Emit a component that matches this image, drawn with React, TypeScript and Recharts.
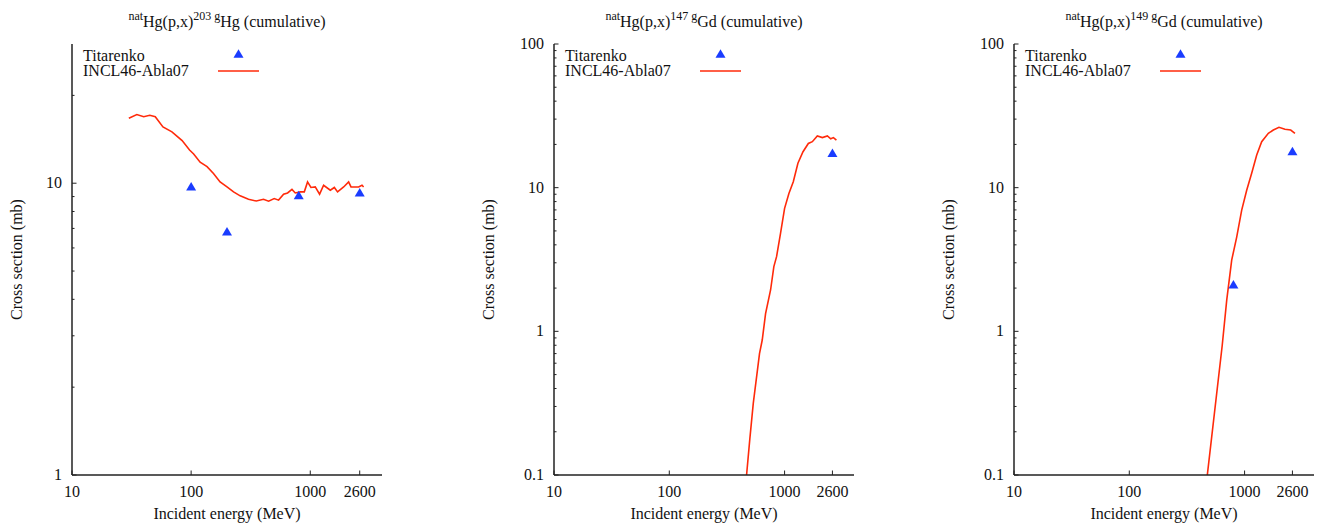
import { ComposedChart, Line, Scatter, XAxis, YAxis, Legend } from 'recharts';

const BLUE = '#1a3cff';
const RED = '#ff2a0a';
const AXIS = '#222';
const FONT = "'Liberation Serif', 'Times New Roman', serif";

const xTicks = [10, 100, 1000, 2600];

// natHg(p,x)203gHg
const hg203InclE = [30, 35, 40, 45, 50, 58, 69, 84, 97, 105, 119, 136, 154, 175, 200, 227, 258, 303, 352, 405, 447, 498, 542, 597, 645, 702, 748, 824, 891, 949, 1013, 1101, 1197, 1294, 1473, 1592, 1695, 1906, 2098, 2197, 2545, 2718, 2803];
const hg203InclS = [16.7, 17.2, 16.9, 17.1, 16.9, 15.6, 15.0, 14.0, 13.0, 12.6, 11.8, 11.4, 10.8, 10.1, 9.71, 9.34, 9.05, 8.81, 8.69, 8.81, 8.68, 8.86, 8.75, 9.17, 9.26, 9.52, 9.26, 9.34, 9.34, 10.1, 9.67, 9.71, 9.17, 9.84, 9.46, 9.67, 9.34, 9.71, 10.1, 9.71, 9.71, 9.84, 9.71];
const hg203TitE = [100, 200, 800, 2600];
const hg203TitS = [9.7, 6.8, 9.05, 9.26];

// natHg(p,x)147gGd
const gd147InclE = [468, 500, 535, 606, 640, 684, 756, 807, 852, 922, 1000, 1090, 1190, 1305, 1445, 1607, 1740, 1923, 2127, 2351, 2512, 2650, 2816];
const gd147InclS = [0.1, 0.18, 0.315, 0.7, 0.87, 1.33, 1.94, 2.82, 3.31, 4.8, 7.18, 9.12, 11.0, 14.8, 17.8, 20.3, 20.9, 22.9, 22.3, 22.9, 21.9, 22.3, 21.4];
const gd147TitE = [2600];
const gd147TitS = [17.3];

// natHg(p,x)149gGd
const gd149InclE = [475, 640, 700, 773, 855, 944, 1043, 1152, 1274, 1407, 1607, 1776, 1988, 2240, 2512, 2735];
const gd149InclS = [0.1, 0.8, 1.65, 3.13, 4.55, 6.98, 9.6, 12.6, 16.9, 20.9, 23.9, 25.2, 26.3, 25.5, 25.2, 23.9];
const gd149TitE = [800, 2600];
const gd149TitS = [2.1, 17.8];

const yMajorHg = [1, 10];
const yMinorHg = [2, 3, 4, 5, 6, 7, 8, 9, 20];
const yMajorGd = [0.1, 1, 10, 100];
const yMinorGd = [0.2, 0.3, 0.4, 0.5, 0.6, 0.7, 0.8, 0.9, 2, 3, 4, 5, 6, 7, 8, 9, 20, 30, 40, 50, 60, 70, 80, 90];

const zip = (e: number[], s: number[]) => e.map((v, i) => ({ e: v, s: s[i] }));

type Side = 'bottom' | 'top' | 'left' | 'right';

function makeTick(side: Side, majors: number[], showLabel: boolean) {
  return (props: any) => {
    const { x, y, payload } = props;
    const v = payload.value;
    const major = majors.includes(v);
    const len = major ? 4.5 : 2.5;
    let x2 = x;
    let y2 = y;
    if (side === 'bottom') y2 = y - len;
    if (side === 'top') y2 = y + len;
    if (side === 'left') x2 = x + len;
    if (side === 'right') x2 = x - len;
    return (
      <g>
        <line x1={x} y1={y} x2={x2} y2={y2} stroke={AXIS} strokeWidth={1} />
        {showLabel && major && side === 'bottom' && (
          <text x={x} y={y + 22} textAnchor="middle" fontFamily={FONT} fontSize={16} fill="#111">
            {String(v)}
          </text>
        )}
        {showLabel && major && side === 'left' && (
          <text x={x - 10} y={y + 5} textAnchor="end" fontFamily={FONT} fontSize={16} fill="#111">
            {String(v)}
          </text>
        )}
      </g>
    );
  };
}

function Triangle(props: any) {
  const { cx, cy } = props;
  return <path d={`M${cx},${cy - 5} L${cx + 5},${cy + 3.5} L${cx - 5},${cy + 3.5} Z`} fill={BLUE} />;
}

function YTitle({ px, py }: any) {
  return (
    <text x={px} y={py} transform={`rotate(-90 ${px} ${py})`} textAnchor="middle" fontFamily={FONT} fontSize={16} fill="#111">
      Cross section (mb)
    </text>
  );
}

function XTitle({ px, py }: any) {
  return (
    <text x={px} y={py} textAnchor="middle" fontFamily={FONT} fontSize={16} fill="#111">
      Incident energy (MeV)
    </text>
  );
}

function LegendBox() {
  return (
    <svg width={200} height={36} style={{ overflow: 'visible' }}>
      <text x={3} y={16} fontFamily={FONT} fontSize={16} fill="#111">Titarenko</text>
      <path d="M158.5,4.3 L163.5,12.8 L153.5,12.8 Z" fill={BLUE} />
      <text x={3} y={31} fontFamily={FONT} fontSize={16} fill="#111">INCL46-Abla07</text>
      <line x1={138} x2={179} y1={26} y2={26} stroke={RED} strokeWidth={1.5} />
    </svg>
  );
}

interface PanelProps {
  left: number;
  plotLeft: number;
  plotRight: number;
  yDomain: [number, number];
  yMajor: number[];
  yMinor: number[];
  line: { e: number; s: number }[];
  points: { e: number; s: number }[];
  mass: string;
  element: string;
  yTitleGap: number;
}

const W = 440;
const H = 524;
const TOP = 44;
const BOTTOM = 475;

const supStyle = { fontSize: 12, position: 'relative' as const, top: -7.5, lineHeight: 0 };

function Panel({ left, plotLeft, plotRight, yDomain, yMajor, yMinor, line, points, mass, element, yTitleGap }: PanelProps) {
  const yTicks = [...yMajor, ...yMinor];
  const yAxisW = 60;
  const center = (plotLeft + plotRight) / 2;
  return (
    <div style={{ position: 'absolute', left, top: 0, width: W, height: H }}>
      <div
        style={{
          position: 'absolute',
          left: plotLeft - 40,
          width: plotRight - plotLeft + 80,
          top: 14.3,
          textAlign: 'center',
          fontFamily: FONT,
          fontSize: 16,
          lineHeight: '16px',
          color: '#111',
          whiteSpace: 'nowrap',
        }}
      >
        <span style={supStyle}>nat</span>Hg(p,x)
        <span style={supStyle}>{mass} g</span>
        {element} (cumulative)
      </div>
      <ComposedChart
        width={W}
        height={H}
        margin={{ top: TOP, right: W - plotRight, bottom: 0, left: plotLeft - yAxisW }}
      >
        <XAxis
          dataKey="e"
          type="number"
          scale="log"
          domain={[10, 4000]}
          allowDataOverflow
          ticks={xTicks}
          interval={0}
          height={H - BOTTOM}
          tickSize={0}
          tickMargin={0}
          tickLine={false}
          axisLine={{ stroke: AXIS, strokeWidth: 1.5 }}
          tick={makeTick('bottom', xTicks, true)}
          label={<XTitle px={center} py={519} />}
        />
        <XAxis
          xAxisId="top"
          orientation="top"
          type="number"
          scale="log"
          domain={[10, 4000]}
          allowDataOverflow
          ticks={xTicks}
          interval={0}
          height={0}
          tickSize={0}
          tickMargin={0}
          tickLine={false}
          axisLine={{ stroke: AXIS, strokeWidth: 1.5 }}
          tick={makeTick('top', xTicks, false)}
        />
        <YAxis
          dataKey="s"
          type="number"
          scale="log"
          domain={yDomain}
          allowDataOverflow
          ticks={yTicks}
          interval={0}
          width={yAxisW}
          tickSize={0}
          tickMargin={0}
          tickLine={false}
          axisLine={{ stroke: AXIS, strokeWidth: 1.5 }}
          tick={makeTick('left', yMajor, true)}
          label={<YTitle px={plotLeft - yTitleGap} py={(TOP + BOTTOM) / 2} />}
        />
        <YAxis
          yAxisId="right"
          orientation="right"
          type="number"
          scale="log"
          domain={yDomain}
          allowDataOverflow
          ticks={yTicks}
          interval={0}
          width={0}
          tickSize={0}
          tickMargin={0}
          tickLine={false}
          axisLine={{ stroke: AXIS, strokeWidth: 1.5 }}
          tick={makeTick('right', yMajor, false)}
        />
        <Legend
          layout="horizontal"
          verticalAlign="middle"
          align="center"
          content={() => <LegendBox />}
          wrapperStyle={{ left: plotLeft + 8, top: 45, width: 200, height: 36 }}
        />
        <Line
          data={line}
          dataKey="s"
          type="linear"
          stroke={RED}
          strokeWidth={1.6}
          dot={false}
          activeDot={false}
          isAnimationActive={false}
        />
        <Scatter data={points} dataKey="s" fill={BLUE} shape={Triangle} isAnimationActive={false} />
      </ComposedChart>
    </div>
  );
}

export default function App() {
  return (
    <div style={{ position: 'absolute', left: 0, top: 0, width: 1320, height: 524, background: '#fff' }}>
      <Panel
        left={0}
        plotLeft={72}
        plotRight={382}
        yDomain={[1, 30]}
        yMajor={yMajorHg}
        yMinor={yMinorHg}
        line={zip(hg203InclE, hg203InclS)}
        points={zip(hg203TitE, hg203TitS)}
        mass="203"
        element="Hg"
        yTitleGap={50}
      />
      <Panel
        left={440}
        plotLeft={114}
        plotRight={414}
        yDomain={[0.1, 100]}
        yMajor={yMajorGd}
        yMinor={yMinorGd}
        line={zip(gd147InclE, gd147InclS)}
        points={zip(gd147TitE, gd147TitS)}
        mass="147"
        element="Gd"
        yTitleGap={60}
      />
      <Panel
        left={880}
        plotLeft={134}
        plotRight={434}
        yDomain={[0.1, 100]}
        yMajor={yMajorGd}
        yMinor={yMinorGd}
        line={zip(gd149InclE, gd149InclS)}
        points={zip(gd149TitE, gd149TitS)}
        mass="149"
        element="Gd"
        yTitleGap={60}
      />
    </div>
  );
}
